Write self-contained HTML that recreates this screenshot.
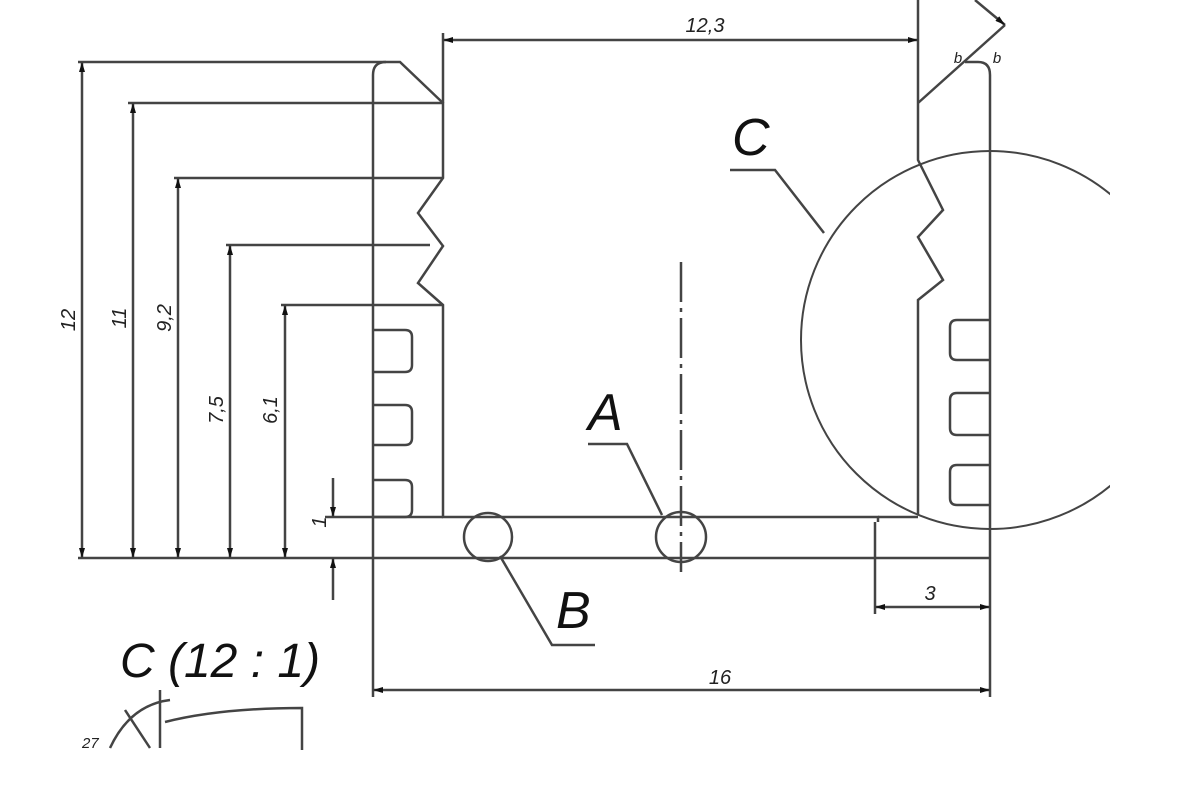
<!DOCTYPE html>
<html><head><style>html,body{margin:0;padding:0;background:#fff;}svg{display:block}</style></head>
<body>
<svg width="1200" height="800" viewBox="0 0 1200 800" xmlns="http://www.w3.org/2000/svg" font-family="Liberation Sans, sans-serif" font-style="italic">
<defs>
<marker id="ar" viewBox="0 0 10 6" refX="10" refY="3" markerWidth="12" markerHeight="6" orient="auto-start-reverse" markerUnits="userSpaceOnUse"><path d="M0,0 L10,3 L0,6z" fill="#111"/></marker>
<clipPath id="cl"><rect x="0" y="0" width="1110" height="800"/></clipPath>
</defs>
<g stroke="#444" stroke-width="2.5" fill="none">
<path d="M373,560 L373,75 Q373,62 386,62 L400,62 L443,103 L443,178 L418,213 L443,246 L418,283 L443,305 L443,517 L878,517 L878,522"/>
<path d="M373,330 L405,330 Q412,330 412,337 L412,365 Q412,372 405,372 L373,372"/>
<path d="M373,405 L405,405 Q412,405 412,412 L412,438 Q412,445 405,445 L373,445"/>
<path d="M373,480 L405,480 Q412,480 412,487 L412,510 Q412,517 405,517 L373,517"/>
<line x1="373" y1="558" x2="990" y2="558"/>
<path d="M918,0 L918,160 L943,210 L918,237 L943,280 L918,300 L918,515"/>
<path d="M878,517 L918,517"/>
<path d="M965,62 L978,62 Q990,62 990,75 L990,612"/>
<path d="M990,320 L957,320 Q950,320 950,327 L950,353 Q950,360 957,360 L990,360"/>
<path d="M990,393 L957,393 Q950,393 950,400 L950,428 Q950,435 957,435 L990,435"/>
<path d="M990,465 L957,465 Q950,465 950,472 L950,498 Q950,505 957,505 L990,505"/>
<line x1="918" y1="103" x2="1005" y2="25"/>
<line x1="975" y1="0" x2="1005" y2="25" marker-end="url(#ar)"/>
<circle cx="488" cy="537" r="24"/>
<circle cx="681" cy="537" r="25"/>
<line x1="681" y1="262" x2="681" y2="572" stroke-dasharray="40,6,4,6"/>
<circle cx="990" cy="340" r="189" clip-path="url(#cl)" stroke-width="2"/>
<path d="M588,444 L627,444 L662,515"/>
<path d="M500,556 L552,645 L595,645"/>
<path d="M824,233 L775,170 L730,170"/>
<line x1="443" y1="103" x2="443" y2="33"/>
<line x1="443" y1="40" x2="918" y2="40" marker-start="url(#ar)" marker-end="url(#ar)"/>
<line x1="373" y1="560" x2="373" y2="697"/>
<line x1="990" y1="612" x2="990" y2="697"/>
<line x1="373" y1="690" x2="990" y2="690" marker-start="url(#ar)" marker-end="url(#ar)"/>
<line x1="875" y1="522" x2="875" y2="614"/>
<line x1="875" y1="607" x2="990" y2="607" marker-start="url(#ar)" marker-end="url(#ar)"/>
<line x1="78" y1="558" x2="373" y2="558"/>
<line x1="78" y1="62" x2="386" y2="62"/>
<line x1="82" y1="62" x2="82" y2="558" marker-start="url(#ar)" marker-end="url(#ar)"/>
<line x1="128" y1="103" x2="443" y2="103"/>
<line x1="133" y1="103" x2="133" y2="558" marker-start="url(#ar)" marker-end="url(#ar)"/>
<line x1="174" y1="178" x2="443" y2="178"/>
<line x1="178" y1="178" x2="178" y2="558" marker-start="url(#ar)" marker-end="url(#ar)"/>
<line x1="226" y1="245" x2="430" y2="245"/>
<line x1="230" y1="245" x2="230" y2="558" marker-start="url(#ar)" marker-end="url(#ar)"/>
<line x1="281" y1="305" x2="443" y2="305"/>
<line x1="285" y1="305" x2="285" y2="558" marker-start="url(#ar)" marker-end="url(#ar)"/>
<line x1="325" y1="517" x2="443" y2="517"/>
<line x1="333" y1="478" x2="333" y2="517" marker-end="url(#ar)"/>
<line x1="333" y1="600" x2="333" y2="558" marker-end="url(#ar)"/>
<path d="M110,748 Q130,705 170,700" />
<line x1="160" y1="690" x2="160" y2="748"/>
<line x1="125" y1="710" x2="150" y2="748"/>
<path d="M165,722 Q220,708 302,708 L302,750"/>
</g>
<g fill="#222" font-size="20">
<text transform="translate(75,320) rotate(-90)" text-anchor="middle">12</text>
<text transform="translate(126,318) rotate(-90)" text-anchor="middle">11</text>
<text transform="translate(171,318) rotate(-90)" text-anchor="middle">9,2</text>
<text transform="translate(223,410) rotate(-90)" text-anchor="middle">7,5</text>
<text transform="translate(277,410) rotate(-90)" text-anchor="middle">6,1</text>
<text transform="translate(326,522) rotate(-90)" text-anchor="middle">1</text>
<text x="705" y="32" text-anchor="middle">12,3</text>
<text x="720" y="684" text-anchor="middle">16</text>
<text x="930" y="600" text-anchor="middle">3</text>
<text x="958" y="63" font-size="15" text-anchor="middle">b</text>
<text x="997" y="63" font-size="15" text-anchor="middle">b</text>
<text x="82" y="748" font-size="15">27</text>
</g>
<g fill="#111" font-size="52">
<text x="588" y="430">A</text>
<text x="556" y="628">B</text>
<text x="732" y="155">C</text>
<text x="120" y="677" font-size="48">C (12 : 1)</text>
</g>
</svg>
</body></html>
